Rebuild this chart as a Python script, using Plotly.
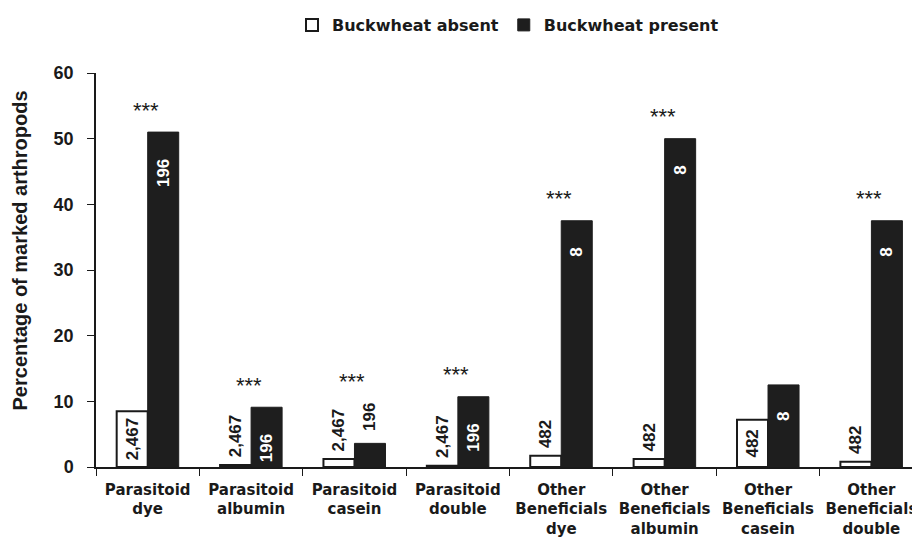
import plotly.graph_objects as go

categories = ["Parasitoid<br>dye", "Parasitoid<br>albumin", "Parasitoid<br>casein", "Parasitoid<br>double",
              "Other<br>Beneficials<br>dye", "Other<br>Beneficials<br>albumin", "Other<br>Beneficials<br>casein",
              "Other<br>Beneficials<br>double"]
absent_vals = [8.5, 0.3, 1.2, 0.2, 1.7, 1.2, 7.2, 0.8]
present_vals = [51.0, 9.1, 3.6, 10.7, 37.5, 50.0, 12.5, 37.5]
absent_n = ["2,467", "2,467", "2,467", "2,467", "482", "482", "482", "482"]
present_n = ["196", "196", "196", "196", "8", "8", "8", "8"]
absent_pos = ["inside", "outside", "outside", "outside", "outside", "outside", "inside", "outside"]
present_pos = ["inside", "inside", "outside", "inside", "inside", "inside", "inside", "inside"]
significance = ["***", "***", "***", "***", "***", "***", "", "***"]
y_title = "Percentage of marked arthropods"

SANS = "Liberation Sans, Arial, sans-serif"
WIDE = "DejaVu Sans, Verdana, sans-serif"
NB = "\u00a0"


def padded(labels, positions, inside_pad, outside_pad):
    out = []
    for t, p in zip(labels, positions):
        if p == "inside":
            out.append(t + NB * inside_pad)
        else:
            out.append(NB * outside_pad + t)
    return out


fig = go.Figure()
fig.add_trace(go.Bar(
    name="Buckwheat absent", x=categories, y=absent_vals,
    marker=dict(color="white", line=dict(color="#1a1a1a", width=2)),
    text=padded(absent_n, absent_pos, 0, 1), textposition=absent_pos, textangle=-90,
    insidetextanchor="middle", constraintext="none", cliponaxis=False,
    textfont=dict(family=SANS, size=17, color="#1a1a1a", weight="bold"),
))
fig.add_trace(go.Bar(
    name="Buckwheat present", x=categories, y=present_vals,
    marker=dict(color="#1e1e1e", line=dict(color="#1e1e1e", width=1)),
    text=padded(present_n, present_pos, 5, 2), textposition=present_pos, textangle=-90,
    insidetextanchor="end", constraintext="none", cliponaxis=False,
    insidetextfont=dict(family=SANS, size=17, color="white", weight="bold"),
    outsidetextfont=dict(family=SANS, size=17, color="#1a1a1a", weight="bold"),
))

px_per_unit = 394 / 60.0
for i, cat in enumerate(categories):
    if not significance[i]:
        continue
    tops = [present_vals[i] * px_per_unit]
    if absent_pos[i] == "outside":
        tops.append(absent_vals[i] * px_per_unit + len(absent_n[i]) * 9.5 + 8)
    if present_pos[i] == "outside":
        tops.append(present_vals[i] * px_per_unit + len(present_n[i]) * 9.5 + 11)
    top_px = max(tops)
    fig.add_annotation(x=cat, y=0, yref="y", text=significance[i], showarrow=False,
                       yshift=top_px + 22, yanchor="middle", xshift=-2,
                       font=dict(family=SANS, size=22, color="#1a1a1a"))

# y-axis title as a free annotation (centred slightly above the plot middle, as in the original)
fig.add_annotation(xref="paper", yref="paper", x=-0.092, y=0.55, text=y_title, showarrow=False,
                   textangle=-90, xanchor="center", yanchor="middle",
                   font=dict(family=SANS, size=20, color="#1a1a1a", weight="bold"))

# the page body has an 8px margin, so the figure is shrunk by 8px to fit the 920x541 window
fig.update_layout(
    width=912, height=533,
    margin=dict(l=88, r=0, t=65, b=74),
    plot_bgcolor="white", paper_bgcolor="white",
    barmode="group", bargap=0.40, bargroupgap=0,
    font=dict(family=SANS, color="#1a1a1a"),
    legend=dict(orientation="h", x=0.5, xanchor="center", y=1.0, yref="container", yanchor="top",
                font=dict(family=WIDE, size=16, color="#1a1a1a", weight="bold"),
                itemwidth=30, traceorder="normal"),
    showlegend=True,
)
fig.update_xaxes(
    range=[-0.5, 7.47], automargin=False, tickangle=0,
    showline=True, linecolor="#1a1a1a", linewidth=1.5,
    ticks="outside", tickson="boundaries", ticklen=7, tickcolor="#1a1a1a", ticklabelstandoff=8,
    tickfont=dict(family=WIDE, size=15, color="#1a1a1a", weight="bold"),
)
fig.update_yaxes(
    range=[0, 60], dtick=10, showgrid=False, zeroline=False, automargin=False,
    showline=True, linecolor="#1a1a1a", linewidth=1.5,
    ticks="outside", ticklen=7, tickcolor="#1a1a1a", ticklabelstandoff=10,
    tickfont=dict(family=SANS, size=18, color="#1a1a1a", weight="bold"),
)

fig.write_html("out.html")
